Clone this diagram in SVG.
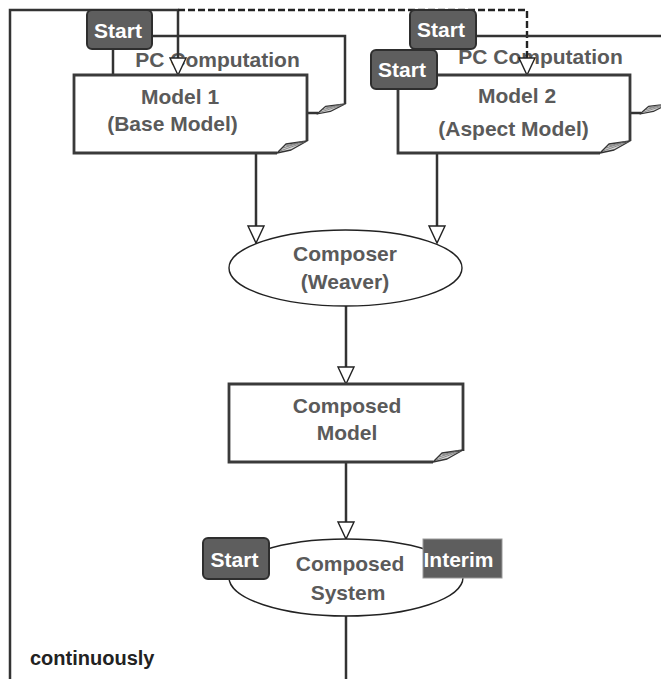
<svg xmlns="http://www.w3.org/2000/svg" xmlns:xlink="http://www.w3.org/1999/xlink" width="661" height="679" viewBox="0 0 661 679">
  <style>
    .line { fill: none; stroke: #333; stroke-width: 2.5; }
    .dash { fill: none; stroke: #222; stroke-width: 2.4; stroke-dasharray: 7 3; }
    .box { fill: #fff; stroke: #3a3a3a; stroke-width: 2.8; stroke-linejoin: miter; }
    .oval { fill: #fff; stroke: #222; stroke-width: 1.4; }
    .label { font-family: "Liberation Sans", Arial, sans-serif; font-weight: bold; font-size: 21px; fill: #5a5a5a; text-anchor: middle; }
    .tag { fill: #5e5e5e; stroke: #2e2e2e; stroke-width: 2; }
    .tagtext { font-family: "Liberation Sans", Arial, sans-serif; font-weight: bold; font-size: 21px; fill: #fff; text-anchor: middle; }
    .note { font-family: "Liberation Sans", Arial, sans-serif; font-weight: bold; font-size: 20px; fill: #222; }
  </style>
  <defs>
    <!-- page-curl corner: starts at lower-left (0,0), ends at upper-right (30,-12) -->
    <g id="curl">
      <path d="M0,0 L9,-9 L30,-12 L14,-3 Z" fill="#d8d8d8" stroke="#333" stroke-width="1.4" stroke-linejoin="round"/>
      <path d="M3,-2 L28,-11 M6,-5 L27,-11.5 M9,-7 L25,-11.5" stroke="#666" stroke-width="0.7" fill="none"/>
    </g>
    <!-- hollow arrowhead, tip at (0,0) -->
    <path id="head" d="M-8,-17 L8,-17 L0,0 Z" fill="#fff" stroke="#222" stroke-width="1.4" stroke-linejoin="miter"/>
  </defs>

  <rect width="661" height="679" fill="#fff"/>

  <!-- captions sit underneath the incoming arrows -->
  <g id="pc-label-1">
    <text class="label" x="217.5" y="67">PC Computation</text>
  </g>
  <g id="pc-label-2">
    <text class="label" x="540.5" y="64">PC Computation</text>
  </g>

  <g id="connectors">
    <!-- outer feedback frame -->
    <path class="line" d="M10,679 V10 H178 V58"/>
    <path class="dash" d="M178,10 H527 V58"/>
    <!-- model 1 start wiring -->
    <path class="line" d="M113,49 V75"/>
    <path class="line" d="M152,36 H345 V104"/>
    <path class="line" d="M307,113 H318"/>
    <use xlink:href="#curl" transform="translate(317,114) scale(0.95,0.85)"/>
    <!-- model 2 start wiring -->
    <path class="line" d="M476,36 H661"/>
    <path class="line" d="M630,113 H641"/>
    <use xlink:href="#curl" transform="translate(640,114) scale(0.95,0.85)"/>
    <!-- flow down the pipeline -->
    <path class="line" d="M256,153 V226"/>
    <path class="line" d="M437,153 V226"/>
    <path class="line" d="M346,306 V367"/>
    <path class="line" d="M346,462 V522"/>
    <path class="line" d="M346,616 V679"/>
    <use xlink:href="#head" transform="translate(178,75)"/>
    <use xlink:href="#head" transform="translate(527,75)"/>
    <use xlink:href="#head" transform="translate(256,243)"/>
    <use xlink:href="#head" transform="translate(437,243)"/>
    <use xlink:href="#head" transform="translate(346,384)"/>
    <use xlink:href="#head" transform="translate(346,539)"/>
  </g>

  <g id="model1">
    <path class="box" d="M277,153 H74 V75 H307 V141"/>
    <use xlink:href="#curl" transform="translate(277,153)"/>
    <text class="label" x="180" y="104">Model 1</text>
    <text class="label" x="172.5" y="131">(Base Model)</text>
  </g>

  <g id="model2">
    <path class="box" d="M600,153 H398 V75 H630 V141"/>
    <path class="line" d="M398,89 V75"/>
    <use xlink:href="#curl" transform="translate(600,153)"/>
    <text class="label" x="517" y="103">Model 2</text>
    <text class="label" x="513.5" y="136">(Aspect Model)</text>
  </g>

  <g id="start1">
    <rect class="tag" x="87" y="10" width="65" height="39" rx="5"/>
    <text class="tagtext" x="118" y="37.5">Start</text>
  </g>
  <g id="start2">
    <rect class="tag" x="410" y="10" width="66" height="39" rx="5"/>
    <text class="tagtext" x="441" y="37">Start</text>
  </g>
  <g id="start3">
    <rect class="tag" x="371" y="50" width="66" height="39" rx="5"/>
    <text class="tagtext" x="402" y="77">Start</text>
  </g>

  <g id="composer">
    <ellipse class="oval" cx="345.5" cy="268" rx="116.5" ry="38"/>
    <text class="label" x="345" y="261">Composer</text>
    <text class="label" x="345" y="289">(Weaver)</text>
  </g>

  <g id="composed-model">
    <path class="box" d="M433,462 H229 V384 H463 V451"/>
    <use xlink:href="#curl" transform="translate(433,462)"/>
    <text class="label" x="347" y="413">Composed</text>
    <text class="label" x="347" y="440">Model</text>
  </g>

  <g id="composed-system">
    <ellipse class="oval" cx="346" cy="577.5" rx="117" ry="38.5"/>
    <text class="label" x="350" y="571">Composed</text>
    <text class="label" x="348" y="600">System</text>
  </g>
  <g id="start4">
    <rect class="tag" x="203" y="538" width="66" height="41" rx="5"/>
    <text class="tagtext" x="234.5" y="567">Start</text>
  </g>
  <g id="interim">
    <rect x="423" y="539" width="79" height="39" fill="#5e5e5e" stroke="#999" stroke-width="1"/>
    <text class="tagtext" x="458.5" y="567">Interim</text>
  </g>

  <g id="continuously">
    <text class="note" x="30" y="665">continuously</text>
  </g>
</svg>
